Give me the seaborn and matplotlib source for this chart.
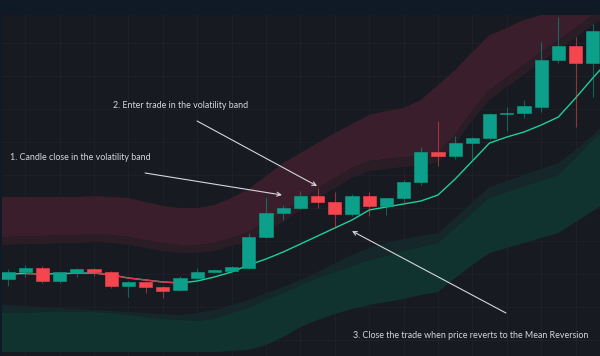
import matplotlib
matplotlib.use('Agg')
import matplotlib.pyplot as plt
import numpy as np
import pandas as pd
import seaborn as sns

# candles (price units)
opens = [107.7, 108.4, 108.8, 107.5, 108.3, 108.7, 108.4, 107.0, 107.4, 106.9,
         106.6, 107.8, 108.4, 108.5, 108.8, 111.9, 114.3, 114.8, 116.0, 115.4,
         114.2, 116.0, 115.0, 115.8, 117.4, 120.4, 120.0, 121.3, 121.8, 124.25,
         124.3, 124.9, 129.6, 131.0, 129.3]
highs = [108.7, 109.1, 109.0, 108.4, 108.8, 108.8, 108.5, 107.5, 107.5, 107.0,
         108.0, 108.8, 108.7, 109.0, 112.3, 115.9, 115.1, 116.5, 116.8, 116.4,
         116.2, 116.4, 115.8, 117.6, 120.9, 123.5, 122.0, 121.9, 124.3, 124.9,
         125.6, 131.4, 133.9, 131.9, 133.2]
lows = [107.0, 107.9, 107.3, 107.3, 107.9, 108.0, 106.8, 105.9, 106.3, 105.8,
        106.5, 107.7, 108.3, 108.4, 108.7, 111.8, 113.6, 114.7, 114.8, 112.8,
        114.0, 114.0, 114.1, 115.4, 117.1, 119.0, 119.7, 119.6, 121.6, 122.5,
        123.8, 124.4, 129.3, 122.9, 125.9]
closes = [108.4, 108.8, 107.5, 108.4, 108.7, 108.4, 107.0, 107.4, 106.9, 106.5,
          107.8, 108.4, 108.6, 108.9, 111.9, 114.3, 114.8, 116.0, 115.4, 114.2,
          116.0, 115.0, 115.8, 117.4, 120.4, 120.0, 121.3, 121.8, 124.2, 124.3,
          125.0, 129.6, 131.0, 129.3, 132.5]

# mean reversion line and volatility bands (one extra point past each edge)
mean_line = [108.15, 108.2, 108.25, 108.2, 108.23, 108.28, 108.3, 108.1, 107.8, 107.6, 107.4,
             107.3, 107.5, 107.9, 108.4, 109.1, 109.7, 110.4, 111.2, 112.0, 112.8,
             113.6, 114.6, 114.9, 115.2, 115.5, 116.1, 117.7, 119.5, 121.3, 121.9,
             122.4, 123.1, 123.9, 125.8, 127.8, 129.7]
upper_outer = [115.9, 115.9, 115.9, 115.9, 115.9, 115.9, 116.0, 115.9, 115.8, 115.4, 115.0,
               114.8, 114.8, 115.1, 115.8, 116.7, 118.0, 119.3, 120.3, 121.3, 122.3,
               123.2, 124.1, 124.5, 124.8, 125.6, 127.1, 128.6, 130.4, 132.1, 132.8,
               133.6, 134.1, 134.4, 134.6, 134.8, 135.0]
upper_mid = [111.9, 111.9, 112.0, 112.0, 112.1, 112.1, 112.2, 112.1, 111.9, 111.6, 111.3,
             111.1, 111.1, 111.3, 111.8, 112.4, 113.4, 114.4, 115.6, 116.7, 117.8,
             118.8, 119.5, 119.7, 119.9, 120.0, 120.4, 122.1, 124.6, 126.6, 127.9,
             129.1, 130.4, 131.6, 132.8, 134.1, 135.1]
upper_inner = [111.1, 111.1, 111.2, 111.2, 111.3, 111.3, 111.4, 111.3, 111.1, 110.8, 110.5,
               110.3, 110.3, 110.5, 111.0, 111.4, 112.4, 113.4, 114.6, 115.7, 116.8,
               117.8, 118.5, 118.7, 118.9, 119.0, 119.4, 121.1, 123.6, 125.6, 126.9,
               128.1, 129.4, 130.6, 131.8, 133.1, 134.1]
lower_inner = [105.1, 105.1, 105.0, 104.9, 104.8, 104.7, 104.6, 104.5, 104.4, 104.3, 104.2,
               104.1, 104.3, 104.6, 105.1, 105.6, 106.3, 106.9, 107.6, 108.4, 109.3,
               110.1, 110.8, 111.3, 111.7, 112.0, 112.3, 113.8, 115.4, 116.9, 117.5,
               118.1, 118.7, 119.3, 120.6, 122.1, 123.6]
lower_mid = [104.3, 104.3, 104.3, 104.4, 104.4, 104.4, 104.4, 104.3, 104.1, 103.9, 103.7,
             103.6, 103.5, 103.7, 104.3, 104.8, 105.6, 106.3, 107.1, 107.8, 108.4,
             109.0, 109.6, 110.0, 110.5, 110.9, 111.3, 112.8, 114.3, 115.8, 116.4,
             117.0, 117.5, 118.1, 119.8, 121.6, 123.1]
lower_outer = [100.4, 100.4, 100.4, 100.4, 100.4, 100.4, 100.4, 100.4, 100.4, 100.4, 100.4,
               100.4, 100.4, 100.4, 100.5, 100.6, 101.1, 101.9, 102.9, 103.6, 104.2,
               104.7, 105.1, 105.4, 105.7, 106.1, 106.4, 107.8, 109.1, 110.3, 110.8,
               111.3, 111.8, 112.3, 113.4, 114.5, 115.6]

notes = ['1. Candle close in the volatility band',
         '2. Enter trade in the volatility band',
         '3. Close the trade when price reverts to the Mean Reversion']

BG = '#171a21'
TOP = '#0f1a26'
UP = '#0c9f89'
DOWN = '#f5464f'

sns.set_theme(style='dark', rc={'axes.facecolor': BG, 'figure.facecolor': TOP,
                                'grid.color': '#1f222b'})
plt.rcParams['font.family'] = ['Lato', 'DejaVu Sans']

candles = pd.DataFrame({'open': opens, 'high': highs, 'low': lows, 'close': closes})
candles['idx'] = np.arange(len(candles))
candles['up'] = candles['close'] >= candles['open']

bands = pd.DataFrame({'mean': mean_line, 'uo': upper_outer, 'um': upper_mid, 'ui': upper_inner,
                      'li': lower_inner, 'lm': lower_mid, 'lo': lower_outer})
bands['idx'] = np.arange(len(bands)) - 1

fig = plt.figure(figsize=(6, 3.56), dpi=100)
ax = fig.add_axes([2 / 600, 0, 598 / 600, 341 / 356])

# bands
ax.fill_between(bands['idx'], bands['um'], bands['uo'], color='#3a1e2b', lw=0, zorder=1)
ax.fill_between(bands['idx'], bands['ui'], bands['um'], color='#2a1d26', lw=0, zorder=1)
ax.fill_between(bands['idx'], bands['lm'], bands['li'], color='#15272a', lw=0, zorder=1)
ax.fill_between(bands['idx'], bands['lo'], bands['lm'], color='#11332f', lw=0, zorder=1)

# mean line, red where falling
sns.lineplot(data=bands, x='idx', y='mean', color='#1fcf9b', lw=1.0, ax=ax, zorder=3)
m = bands['mean'].to_numpy()
x = bands['idx'].to_numpy()
for i in range(len(m) - 1):
    if m[i + 1] < m[i]:
        ax.plot(x[i:i + 2], m[i:i + 2], color='#e5304b', lw=1.0, zorder=3.5,
                solid_capstyle='butt')

# candles
for up, col in [(True, UP), (False, DOWN)]:
    part = candles[candles['up'] == up]
    ax.vlines(part['idx'], part['low'], part['high'], color=col, alpha=0.55, lw=0.8, zorder=4)
    body = np.maximum((part['close'] - part['open']).abs(), 0.1)
    ax.bar(part['idx'], body, bottom=np.minimum(part['open'], part['close']),
           width=0.76, color=col, edgecolor=col, lw=0.4, zorder=5)

# annotations
arrow = dict(arrowstyle='->', color='#d4d6dc', lw=0.8, shrinkA=0, shrinkB=0, mutation_scale=7)
txt = dict(color='#d4d6dc', fontsize=6.4, va='center', ha='left', zorder=6)
ax.text(0.12, 119.8, notes[0], **txt)
ax.text(6.1, 125.1, notes[1], **txt)
ax.text(20.05, 102.0, notes[2], **txt)
ax.annotate('', xy=(15.93, 116.1), xytext=(7.97, 118.3), arrowprops=arrow, zorder=6)
ax.annotate('', xy=(17.97, 117.0), xytext=(10.99, 123.5), arrowprops=arrow, zorder=6)
ax.annotate('', xy=(20.0, 112.5), xytext=(28.95, 104.3), arrowprops=arrow, zorder=6)

ax.set_xlim(-0.35, 34.42)
ax.set_ylim(100, 134.1)
ax.set_xticks(np.arange(1, 35, 2))
ax.set_yticks(np.arange(101.6, 134, 3.3))
ax.grid(True, color='#1f222b', lw=0.6)
ax.set_axisbelow(True)
ax.tick_params(length=0, labelbottom=False, labelleft=False)
ax.set_xlabel('')
ax.set_ylabel('')
for s in ax.spines.values():
    s.set_visible(False)

fig.savefig('out.png', dpi=100, facecolor=TOP)
